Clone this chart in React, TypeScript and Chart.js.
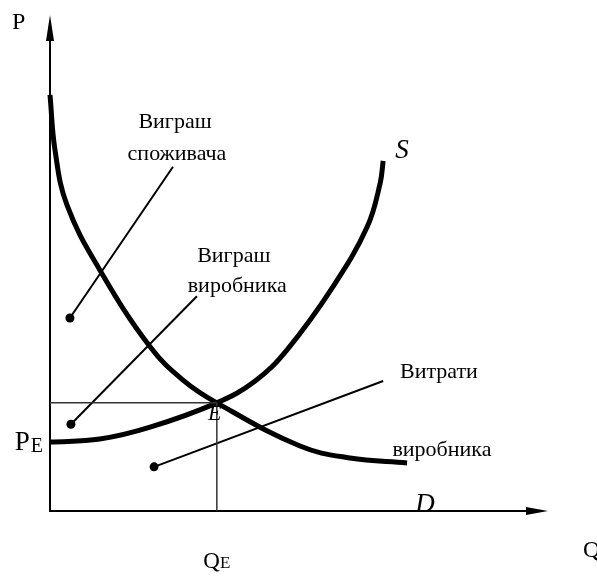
import React, { useEffect, useRef } from 'react';
import { Chart, registerables } from 'chart.js';

Chart.register(...registerables);

// Demand curve D (quantity, price)
const demandQ = [0, 0.1, 0.34, 1.0, 2.01, 2.67, 3.35, 5.02, 6.02, 7.17];
const demandP = [8.39, 7.28, 6.17, 4.86, 3.31, 2.64, 2.18, 1.31, 1.07, 0.97];

// Supply curve S
const supplyQ = [0, 1.0, 2.01, 3.35, 4.12, 4.76, 5.68, 6.37, 6.63, 6.69];
const supplyP = [1.39, 1.45, 1.69, 2.18, 2.62, 3.25, 4.52, 5.73, 6.61, 7.06];

// Equilibrium
const equilibriumQ = 3.35;
const equilibriumP = 2.18;

// Pointer lines: dot end and label end
const pointerDotQ = [0.4, 0.42, 2.09];
const pointerDotP = [3.89, 1.75, 0.89];
const pointerEndQ = [2.47, 2.95, 6.69];
const pointerEndP = [6.94, 4.33, 2.62];

// Annotation texts and anchors (data units)
const noteTexts = ['Виграш', 'споживача', 'Виграш', 'виробника', 'Витрати', 'виробника'];
const noteQ = [2.51, 2.55, 3.69, 3.76, 7.81, 7.87];
const noteP = [7.72, 7.08, 5.02, 4.42, 2.68, 1.11];

// Curve names
const curveNames = ['S', 'D', 'E'];
const curveNameQ = [7.07, 7.53, 3.31];
const curveNameP = [7.12, -0.02, 1.83];

// Axis titles
const axisY = 'P';
const axisX = 'Q';
const eqPriceLabel = ['P', 'E'];
const eqQtyLabel = ['Q', 'E'];

const FONT = '"Liberation Serif", "Times New Roman", serif';

const pts = (qs: number[], ps: number[]) => qs.map((q, i) => ({ x: q, y: ps[i] }));

export default function App() {
  const ref = useRef<HTMLCanvasElement | null>(null);

  useEffect(() => {
    document.body.style.margin = '0';
    const canvas = ref.current;
    if (!canvas) return;

    const axesPlugin = {
      id: 'axesArrows',
      beforeDatasetsDraw(chart: any) {
        const { ctx, chartArea } = chart;
        const { left, right, top, bottom } = chartArea;
        ctx.save();
        ctx.strokeStyle = '#000';
        ctx.fillStyle = '#000';
        ctx.lineWidth = 2;
        ctx.beginPath();
        ctx.moveTo(left, bottom + 1);
        ctx.lineTo(left, top + 20);
        ctx.moveTo(left - 1, bottom);
        ctx.lineTo(right - 18, bottom);
        ctx.stroke();
        ctx.beginPath();
        ctx.moveTo(left, top);
        ctx.lineTo(left - 4, top + 26);
        ctx.lineTo(left + 4, top + 26);
        ctx.closePath();
        ctx.fill();
        ctx.beginPath();
        ctx.moveTo(right, bottom);
        ctx.lineTo(right - 22, bottom - 4);
        ctx.lineTo(right - 22, bottom + 4);
        ctx.closePath();
        ctx.fill();
        ctx.restore();
      },
    };

    const labelsPlugin = {
      id: 'textLabels',
      afterDatasetsDraw(chart: any) {
        const { ctx } = chart;
        const xs = chart.scales.x;
        const ys = chart.scales.y;
        ctx.save();
        ctx.fillStyle = '#000';
        ctx.textBaseline = 'alphabetic';
        ctx.textAlign = 'center';
        ctx.font = `22px ${FONT}`;
        noteTexts.forEach((t, i) => {
          ctx.fillText(t, xs.getPixelForValue(noteQ[i]), ys.getPixelForValue(noteP[i]));
        });
        const nameSizes = [27, 27, 22];
        curveNames.forEach((t, i) => {
          ctx.font = `italic ${nameSizes[i]}px ${FONT}`;
          ctx.fillText(t, xs.getPixelForValue(curveNameQ[i]), ys.getPixelForValue(curveNameP[i]));
        });
        // axis titles
        const x0 = xs.getPixelForValue(0);
        const y0 = ys.getPixelForValue(0);
        ctx.font = `24px ${FONT}`;
        ctx.textAlign = 'left';
        ctx.fillText(axisY, x0 - 38, ys.getPixelForValue(10) + 14);
        ctx.font = `24px ${FONT}`;
        ctx.fillText(axisX, xs.getPixelForValue(10) + 35, y0 + 46);
        // P_E
        const pe = ys.getPixelForValue(equilibriumP);
        ctx.textAlign = 'right';
        ctx.font = `20px ${FONT}`;
        const subW = ctx.measureText(eqPriceLabel[1]).width;
        ctx.fillText(eqPriceLabel[1], x0 - 7, pe + 49);
        ctx.font = `27px ${FONT}`;
        ctx.fillText(eqPriceLabel[0], x0 - 7 - subW - 1, pe + 47);
        // Q_E
        const qe = xs.getPixelForValue(equilibriumQ);
        ctx.font = `23px ${FONT}`;
        const qW = ctx.measureText(eqQtyLabel[0]).width;
        ctx.font = `17px ${FONT}`;
        const eW = ctx.measureText(eqQtyLabel[1]).width;
        const startX = qe - (qW + eW) / 2;
        ctx.textAlign = 'left';
        ctx.font = `23px ${FONT}`;
        ctx.fillText(eqQtyLabel[0], startX, y0 + 57);
        ctx.font = `17px ${FONT}`;
        ctx.fillText(eqQtyLabel[1], startX + qW, y0 + 57);
        ctx.restore();
      },
    };

    const pointerSets = pointerDotQ.map((q, i) => ({
      data: [
        { x: q, y: pointerDotP[i] },
        { x: pointerEndQ[i], y: pointerEndP[i] },
      ],
      showLine: true,
      borderColor: '#000',
      borderWidth: 2,
      pointRadius: [4.5, 0],
      pointBackgroundColor: '#000',
      pointBorderWidth: 0,
      clip: false as any,
    }));

    const chart = new Chart(canvas, {
      type: 'scatter',
      data: {
        datasets: [
          {
            data: [
              { x: 0, y: equilibriumP },
              { x: equilibriumQ, y: equilibriumP },
            ],
            showLine: true,
            borderColor: '#333',
            borderWidth: 1.5,
            pointRadius: 0,
            clip: false as any,
          },
          {
            data: [
              { x: equilibriumQ, y: 0 },
              { x: equilibriumQ, y: equilibriumP },
            ],
            showLine: true,
            borderColor: '#333',
            borderWidth: 1.5,
            pointRadius: 0,
            clip: false as any,
          },
          ...pointerSets,
          {
            data: pts(demandQ, demandP),
            showLine: true,
            borderColor: '#000',
            borderWidth: 5,
            pointRadius: 0,
            tension: 0.4,
            clip: false as any,
          },
          {
            data: pts(supplyQ, supplyP),
            showLine: true,
            borderColor: '#000',
            borderWidth: 5,
            pointRadius: 0,
            tension: 0.4,
            clip: false as any,
          },
        ] as any,
      },
      options: {
        responsive: false,
        animation: false,
        events: [],
        layout: { padding: { left: 50, right: 49, top: 15, bottom: 65 } },
        scales: {
          x: { type: 'linear', min: 0, max: 10, display: false },
          y: { type: 'linear', min: 0, max: 10, display: false },
        },
        plugins: {
          legend: { display: false },
          tooltip: { enabled: false },
        },
      },
      plugins: [axesPlugin, labelsPlugin],
    });
    return () => chart.destroy();
  }, []);

  return (
    <div style={{ position: 'absolute', left: 0, top: 0, width: 597, height: 576, background: '#fff' }}>
      <canvas ref={ref} width={597} height={576} style={{ display: 'block' }} />
    </div>
  );
}
